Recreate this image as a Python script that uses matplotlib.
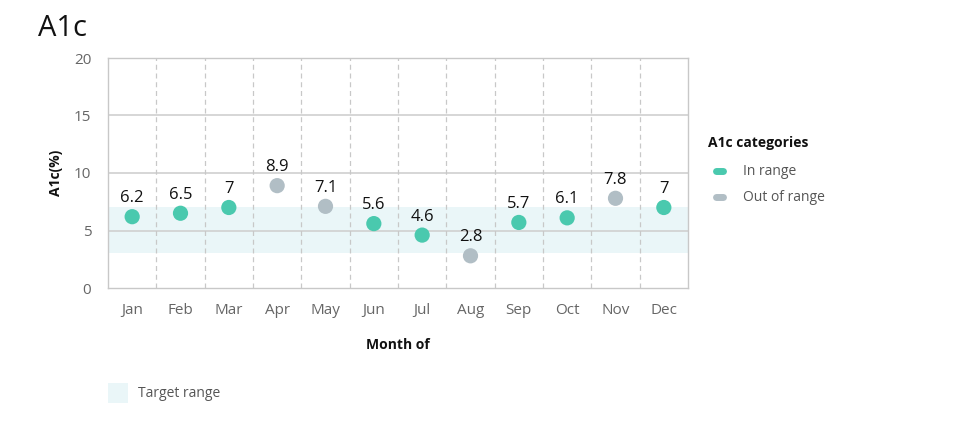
import matplotlib
matplotlib.use("Agg")
import matplotlib.pyplot as plt
from matplotlib.patches import Rectangle
from matplotlib.lines import Line2D

plt.rcParams['font.family'] = ['Open Sans', 'DejaVu Sans']

months = ["Jan", "Feb", "Mar", "Apr", "May", "Jun", "Jul", "Aug", "Sep", "Oct", "Nov", "Dec"]
values = [6.2, 6.5, 7, 8.9, 7.1, 5.6, 4.6, 2.8, 5.7, 6.1, 7.8, 7]
labels = ["6.2", "6.5", "7", "8.9", "7.1", "5.6", "4.6", "2.8", "5.7", "6.1", "7.8", "7"]
categories = ["In range", "In range", "In range", "Out of range", "Out of range", "In range",
              "In range", "Out of range", "In range", "In range", "Out of range", "In range"]
target_low, target_high = 3, 7
y_ticks = [0, 5, 10, 15, 20]

colors = {"In range": "#4ac9ae", "Out of range": "#b1bec5"}
band_color = "#eaf6f8"

fig = plt.figure(figsize=(9.6, 4.4), dpi=100)
ax = fig.add_axes([108/960, 1-288/440, 580/960, 230/440])

x = list(range(len(months)))
ax.axhspan(target_low, target_high, color=band_color, zorder=0, lw=0)
for yt in y_ticks[1:-1]:
    ax.axhline(yt, color="#d0d0d0", lw=1.2, zorder=1)
for b in range(len(months) - 1):
    ax.axvline(b + 0.5, color="#c8c8c8", lw=0.9, ls=(0, (4, 3)), zorder=1)

ax.scatter(x, values, s=120, c=[colors[c] for c in categories], zorder=3, linewidths=0)
for xi, v, lab in zip(x, values, labels):
    ax.annotate(lab, (xi, v), xytext=(0, 7.5), textcoords="offset points",
                ha="center", va="bottom", fontsize=12, color="#111111")

ax.set_xlim(-0.5, len(months) - 0.5)
ax.set_ylim(0, 20)
ax.set_yticks(y_ticks)
ax.set_xticks(x)
ax.set_xticklabels(months)
ax.tick_params(axis="both", length=0, colors="#666666", labelsize=11, pad=11)
ax.tick_params(axis="y", pad=12)
for s in ax.spines.values():
    s.set_color("#c8c8c8")
    s.set_linewidth(1)

ax.set_xlabel("Month of", fontsize=10, fontweight="bold", color="#111111", labelpad=14)
ax.set_ylabel("A1c(%)", fontsize=10, fontweight="bold", color="#111111", labelpad=8)

fig.text(38/960, 1-28/440, "A1c", fontsize=21, color="#111111", va="center", ha="left")

# legend
fig.text(708/960, 1-143/440, "A1c categories", fontsize=10, fontweight="bold", color="#111111", va="center")
for i, k in enumerate(["In range", "Out of range"]):
    yy = 1 - (171 + 26*i)/440
    fig.lines.append(Line2D([716/960, 723/960], [yy, yy], transform=fig.transFigure,
                            color=colors[k], lw=5, solid_capstyle="round"))
    fig.text(743/960, yy, k, fontsize=10, color="#555555", va="center")

fig.patches.append(Rectangle((108/960, 1-403/440), 20/960, 20/440, transform=fig.transFigure,
                             facecolor=band_color, edgecolor="none"))
fig.text(138/960, 1-393/440, "Target range", fontsize=10, color="#555555", va="center")

fig.savefig("out.png", dpi=100)
